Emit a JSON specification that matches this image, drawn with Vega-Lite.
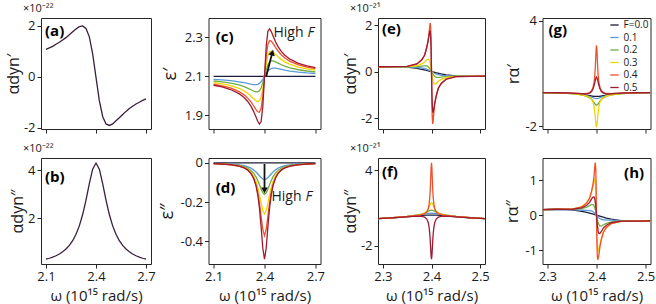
{
"$schema":"https://vega.github.io/schema/vega-lite/v6.json",
"padding":{"left":4,"top":2,"right":0,"bottom":0},
"config":{
 "font":"Open Sans",
 "view":{"stroke":"#262626","strokeWidth":1},
 "axis":{"grid":false,"domain":false,"tickColor":"#262626","tickSize":4,"tickWidth":1,"labelFontSize":13,"labelColor":"#1a1a1a","labelPadding":2,"titleFontSize":15,"titleFontWeight":"normal","titleColor":"#1a1a1a"},
 "axisX":{"titlePadding":5},
 "axisY":{"titlePadding":2},
 "title":{"fontSize":11,"fontWeight":"normal","anchor":"start","frame":"group","offset":0,"color":"#1a1a1a"},
 "line":{"strokeWidth":1.3}
},
"datasets":{
"ab":[
{"w":2.10,"re":1.07,"im":0.286},{"w":2.12,"re":1.13,"im":0.325},{"w":2.14,"re":1.19,"im":0.372},{"w":2.16,"re":1.27,"im":0.43},{"w":2.18,"re":1.35,"im":0.502},{"w":2.20,"re":1.44,"im":0.593},{"w":2.22,"re":1.53,"im":0.71},{"w":2.24,"re":1.64,"im":0.86},{"w":2.26,"re":1.76,"im":1.058},{"w":2.28,"re":1.87,"im":1.324},{"w":2.30,"re":1.96,"im":1.677},{"w":2.32,"re":1.99,"im":2.15},{"w":2.34,"re":1.89,"im":2.752},{"w":2.36,"re":1.56,"im":3.44},{"w":2.38,"re":0.89,"im":4.046},{"w":2.40,"re":-0.03,"im":4.3},{"w":2.42,"re":-0.94,"im":4.046},{"w":2.44,"re":-1.56,"im":3.44},{"w":2.46,"re":-1.85,"im":2.752},{"w":2.48,"re":-1.91,"im":2.15},{"w":2.50,"re":-1.85,"im":1.677},{"w":2.52,"re":-1.73,"im":1.324},{"w":2.54,"re":-1.61,"im":1.058},{"w":2.56,"re":-1.48,"im":0.86},{"w":2.58,"re":-1.36,"im":0.71},{"w":2.60,"re":-1.25,"im":0.593},{"w":2.62,"re":-1.16,"im":0.502},{"w":2.64,"re":-1.07,"im":0.43},{"w":2.66,"re":-1.00,"im":0.372},{"w":2.68,"re":-0.93,"im":0.325},{"w":2.70,"re":-0.87,"im":0.286}
],
"cd":[
{"F":0,"w":2.1,"re":2.1,"im":0},{"F":0,"w":2.4,"re":2.1,"im":0},{"F":0,"w":2.7,"re":2.1,"im":0},
{"F":0.1,"w":2.10,"re":2.0849,"im":-0.0028},{"F":0.1,"w":2.15,"re":2.0822,"im":-0.0039},{"F":0.1,"w":2.20,"re":2.0783,"im":-0.006},{"F":0.1,"w":2.25,"re":2.0725,"im":-0.0101},{"F":0.1,"w":2.28,"re":2.0678,"im":-0.0148},{"F":0.1,"w":2.30,"re":2.0641,"im":-0.0197},{"F":0.1,"w":2.32,"re":2.0603,"im":-0.0273},{"F":0.1,"w":2.335,"re":2.0578,"im":-0.0357},{"F":0.1,"w":2.35,"re":2.0577,"im":-0.0465},{"F":0.1,"w":2.36,"re":2.0596,"im":-0.0556},{"F":0.1,"w":2.37,"re":2.0643,"im":-0.0655},{"F":0.1,"w":2.38,"re":2.0727,"im":-0.0751},{"F":0.1,"w":2.39,"re":2.085,"im":-0.0823},{"F":0.1,"w":2.40,"re":2.1,"im":-0.085},{"F":0.1,"w":2.41,"re":2.115,"im":-0.0823},{"F":0.1,"w":2.42,"re":2.1273,"im":-0.0751},{"F":0.1,"w":2.43,"re":2.1357,"im":-0.0655},{"F":0.1,"w":2.44,"re":2.1404,"im":-0.0556},{"F":0.1,"w":2.45,"re":2.1423,"im":-0.0465},{"F":0.1,"w":2.465,"re":2.1422,"im":-0.0357},{"F":0.1,"w":2.48,"re":2.1397,"im":-0.0273},{"F":0.1,"w":2.50,"re":2.1359,"im":-0.0197},{"F":0.1,"w":2.52,"re":2.1322,"im":-0.0148},{"F":0.1,"w":2.55,"re":2.1275,"im":-0.0101},{"F":0.1,"w":2.60,"re":2.1217,"im":-0.006},{"F":0.1,"w":2.65,"re":2.1178,"im":-0.0039},{"F":0.1,"w":2.70,"re":2.1151,"im":-0.0028},
{"F":0.2,"w":2.10,"re":2.0765,"im":-0.0035},{"F":0.2,"w":2.15,"re":2.0721,"im":-0.005},{"F":0.2,"w":2.20,"re":2.0657,"im":-0.0077},{"F":0.2,"w":2.25,"re":2.056,"im":-0.0132},{"F":0.2,"w":2.28,"re":2.0474,"im":-0.0197},{"F":0.2,"w":2.30,"re":2.0401,"im":-0.0269},{"F":0.2,"w":2.32,"re":2.0316,"im":-0.0385},{"F":0.2,"w":2.335,"re":2.0251,"im":-0.0518},{"F":0.2,"w":2.35,"re":2.0204,"im":-0.0716},{"F":0.2,"w":2.36,"re":2.0205,"im":-0.0894},{"F":0.2,"w":2.37,"re":2.0262,"im":-0.1108},{"F":0.2,"w":2.38,"re":2.0406,"im":-0.1336},{"F":0.2,"w":2.39,"re":2.0661,"im":-0.1525},{"F":0.2,"w":2.40,"re":2.1,"im":-0.16},{"F":0.2,"w":2.41,"re":2.1339,"im":-0.1525},{"F":0.2,"w":2.42,"re":2.1594,"im":-0.1336},{"F":0.2,"w":2.43,"re":2.1738,"im":-0.1108},{"F":0.2,"w":2.44,"re":2.1795,"im":-0.0894},{"F":0.2,"w":2.45,"re":2.1796,"im":-0.0716},{"F":0.2,"w":2.465,"re":2.1749,"im":-0.0518},{"F":0.2,"w":2.48,"re":2.1684,"im":-0.0385},{"F":0.2,"w":2.50,"re":2.1599,"im":-0.0269},{"F":0.2,"w":2.52,"re":2.1526,"im":-0.0197},{"F":0.2,"w":2.55,"re":2.144,"im":-0.0132},{"F":0.2,"w":2.60,"re":2.1343,"im":-0.0077},{"F":0.2,"w":2.65,"re":2.1279,"im":-0.005},{"F":0.2,"w":2.70,"re":2.1235,"im":-0.0035},
{"F":0.3,"w":2.10,"re":2.0676,"im":-0.0041},{"F":0.3,"w":2.15,"re":2.0614,"im":-0.0059},{"F":0.3,"w":2.20,"re":2.0523,"im":-0.009},{"F":0.3,"w":2.25,"re":2.0381,"im":-0.0157},{"F":0.3,"w":2.28,"re":2.0252,"im":-0.0237},{"F":0.3,"w":2.30,"re":2.0137,"im":-0.0328},{"F":0.3,"w":2.32,"re":1.9992,"im":-0.0479},{"F":0.3,"w":2.335,"re":1.9867,"im":-0.0662},{"F":0.3,"w":2.35,"re":1.9748,"im":-0.0952},{"F":0.3,"w":2.36,"re":1.9702,"im":-0.1233},{"F":0.3,"w":2.37,"re":1.9736,"im":-0.1602},{"F":0.3,"w":2.38,"re":1.9929,"im":-0.2036},{"F":0.3,"w":2.39,"re":2.036,"im":-0.2432},{"F":0.3,"w":2.40,"re":2.1,"im":-0.26},{"F":0.3,"w":2.41,"re":2.164,"im":-0.2432},{"F":0.3,"w":2.42,"re":2.2071,"im":-0.2036},{"F":0.3,"w":2.43,"re":2.2264,"im":-0.1602},{"F":0.3,"w":2.44,"re":2.2298,"im":-0.1233},{"F":0.3,"w":2.45,"re":2.2252,"im":-0.0952},{"F":0.3,"w":2.465,"re":2.2133,"im":-0.0662},{"F":0.3,"w":2.48,"re":2.2008,"im":-0.0479},{"F":0.3,"w":2.50,"re":2.1863,"im":-0.0328},{"F":0.3,"w":2.52,"re":2.1748,"im":-0.0237},{"F":0.3,"w":2.55,"re":2.1619,"im":-0.0157},{"F":0.3,"w":2.60,"re":2.1477,"im":-0.009},{"F":0.3,"w":2.65,"re":2.1386,"im":-0.0059},{"F":0.3,"w":2.70,"re":2.1324,"im":-0.0041},
{"F":0.4,"w":2.10,"re":2.0598,"im":-0.0044},{"F":0.4,"w":2.15,"re":2.052,"im":-0.0063},{"F":0.4,"w":2.20,"re":2.0406,"im":-0.0098},{"F":0.4,"w":2.25,"re":2.0224,"im":-0.0171},{"F":0.4,"w":2.28,"re":2.0054,"im":-0.026},{"F":0.4,"w":2.30,"re":1.9899,"im":-0.0363},{"F":0.4,"w":2.32,"re":1.9696,"im":-0.0538},{"F":0.4,"w":2.335,"re":1.9507,"im":-0.0758},{"F":0.4,"w":2.35,"re":1.9299,"im":-0.1123},{"F":0.4,"w":2.36,"re":1.9184,"im":-0.1499},{"F":0.4,"w":2.37,"re":1.9159,"im":-0.2026},{"F":0.4,"w":2.38,"re":1.936,"im":-0.2706},{"F":0.4,"w":2.39,"re":1.9973,"im":-0.3389},{"F":0.4,"w":2.40,"re":2.1,"im":-0.37},{"F":0.4,"w":2.41,"re":2.2027,"im":-0.3389},{"F":0.4,"w":2.42,"re":2.264,"im":-0.2706},{"F":0.4,"w":2.43,"re":2.2841,"im":-0.2026},{"F":0.4,"w":2.44,"re":2.2816,"im":-0.1499},{"F":0.4,"w":2.45,"re":2.2701,"im":-0.1123},{"F":0.4,"w":2.465,"re":2.2493,"im":-0.0758},{"F":0.4,"w":2.48,"re":2.2304,"im":-0.0538},{"F":0.4,"w":2.50,"re":2.2101,"im":-0.0363},{"F":0.4,"w":2.52,"re":2.1946,"im":-0.026},{"F":0.4,"w":2.55,"re":2.1776,"im":-0.0171},{"F":0.4,"w":2.60,"re":2.1594,"im":-0.0098},{"F":0.4,"w":2.65,"re":2.148,"im":-0.0063},{"F":0.4,"w":2.70,"re":2.1402,"im":-0.0044},
{"F":0.5,"w":2.10,"re":2.0547,"im":-0.0042},{"F":0.5,"w":2.15,"re":2.0458,"im":-0.0061},{"F":0.5,"w":2.20,"re":2.0327,"im":-0.0094},{"F":0.5,"w":2.25,"re":2.0116,"im":-0.0165},{"F":0.5,"w":2.28,"re":1.9916,"im":-0.0253},{"F":0.5,"w":2.30,"re":1.9728,"im":-0.0356},{"F":0.5,"w":2.32,"re":1.9472,"im":-0.0535},{"F":0.5,"w":2.335,"re":1.922,"im":-0.0767},{"F":0.5,"w":2.35,"re":1.8911,"im":-0.117},{"F":0.5,"w":2.36,"re":1.8698,"im":-0.1612},{"F":0.5,"w":2.37,"re":1.8556,"im":-0.2281},{"F":0.5,"w":2.38,"re":1.8682,"im":-0.3245},{"F":0.5,"w":2.39,"re":1.9448,"im":-0.4346},{"F":0.5,"w":2.40,"re":2.1,"im":-0.49},{"F":0.5,"w":2.41,"re":2.2552,"im":-0.4346},{"F":0.5,"w":2.42,"re":2.3318,"im":-0.3245},{"F":0.5,"w":2.43,"re":2.3444,"im":-0.2281},{"F":0.5,"w":2.44,"re":2.3302,"im":-0.1612},{"F":0.5,"w":2.45,"re":2.3089,"im":-0.117},{"F":0.5,"w":2.465,"re":2.278,"im":-0.0767},{"F":0.5,"w":2.48,"re":2.2528,"im":-0.0535},{"F":0.5,"w":2.50,"re":2.2272,"im":-0.0356},{"F":0.5,"w":2.52,"re":2.2084,"im":-0.0253},{"F":0.5,"w":2.55,"re":2.1884,"im":-0.0165},{"F":0.5,"w":2.60,"re":2.1673,"im":-0.0094},{"F":0.5,"w":2.65,"re":2.1542,"im":-0.0061},{"F":0.5,"w":2.70,"re":2.1453,"im":-0.0042}
],
"ef":[
{"F":0,"w":2.29,"re":0.211,"im":0.149},{"F":0,"w":2.32,"re":0.218,"im":0.215},{"F":0,"w":2.35,"re":0.193,"im":0.309},{"F":0,"w":2.37,"re":0.140,"im":0.377},{"F":0,"w":2.38,"re":0.100,"im":0.405},{"F":0,"w":2.39,"re":0.052,"im":0.424},{"F":0,"w":2.395,"re":0.026,"im":0.428},{"F":0,"w":2.4,"re":0,"im":0.43},{"F":0,"w":2.405,"re":-0.026,"im":0.428},{"F":0,"w":2.41,"re":-0.051,"im":0.424},{"F":0,"w":2.42,"re":-0.098,"im":0.405},{"F":0,"w":2.43,"re":-0.136,"im":0.377},{"F":0,"w":2.45,"re":-0.184,"im":0.309},{"F":0,"w":2.48,"re":-0.202,"im":0.215},{"F":0,"w":2.51,"re":-0.189,"im":0.149},
{"F":0.1,"w":2.29,"re":0.211,"im":0.155},{"F":0.1,"w":2.32,"re":0.218,"im":0.226},{"F":0.1,"w":2.35,"re":0.201,"im":0.333},{"F":0.1,"w":2.37,"re":0.179,"im":0.430},{"F":0.1,"w":2.38,"re":0.160,"im":0.487},{"F":0.1,"w":2.39,"re":0.109,"im":0.548},{"F":0.1,"w":2.395,"re":0.058,"im":0.571},{"F":0.1,"w":2.4,"re":0,"im":0.58},{"F":0.1,"w":2.405,"re":-0.058,"im":0.571},{"F":0.1,"w":2.41,"re":-0.108,"im":0.548},{"F":0.1,"w":2.42,"re":-0.158,"im":0.487},{"F":0.1,"w":2.43,"re":-0.175,"im":0.430},{"F":0.1,"w":2.45,"re":-0.192,"im":0.333},{"F":0.1,"w":2.48,"re":-0.202,"im":0.226},{"F":0.1,"w":2.51,"re":-0.189,"im":0.155},
{"F":0.2,"w":2.29,"re":0.211,"im":0.154},{"F":0.2,"w":2.32,"re":0.218,"im":0.224},{"F":0.2,"w":2.35,"re":0.207,"im":0.331},{"F":0.2,"w":2.37,"re":0.216,"im":0.432},{"F":0.2,"w":2.38,"re":0.241,"im":0.511},{"F":0.2,"w":2.386,"re":0.249,"im":0.586},{"F":0.2,"w":2.39,"re":0.249,"im":0.660},{"F":0.2,"w":2.393,"re":0.211,"im":0.725},{"F":0.2,"w":2.395,"re":0.168,"im":0.769},{"F":0.2,"w":2.3975,"re":0.093,"im":0.813},{"F":0.2,"w":2.4,"re":0,"im":0.83},{"F":0.2,"w":2.4025,"re":-0.093,"im":0.813},{"F":0.2,"w":2.405,"re":-0.168,"im":0.769},{"F":0.2,"w":2.407,"re":-0.211,"im":0.725},{"F":0.2,"w":2.41,"re":-0.248,"im":0.660},{"F":0.2,"w":2.414,"re":-0.248,"im":0.586},{"F":0.2,"w":2.42,"re":-0.239,"im":0.511},{"F":0.2,"w":2.43,"re":-0.212,"im":0.432},{"F":0.2,"w":2.45,"re":-0.198,"im":0.331},{"F":0.2,"w":2.48,"re":-0.202,"im":0.224},{"F":0.2,"w":2.51,"re":-0.189,"im":0.154},
{"F":0.3,"w":2.29,"re":0.211,"im":0.153},{"F":0.3,"w":2.32,"re":0.218,"im":0.222},{"F":0.3,"w":2.35,"re":0.212,"im":0.326},{"F":0.3,"w":2.37,"re":0.254,"im":0.422},{"F":0.3,"w":2.38,"re":0.335,"im":0.501},{"F":0.3,"w":2.386,"re":0.415,"im":0.594},{"F":0.3,"w":2.39,"re":0.509,"im":0.721},{"F":0.3,"w":2.393,"re":0.536,"im":0.890},{"F":0.3,"w":2.395,"re":0.509,"im":1.057},{"F":0.3,"w":2.3965,"re":0.435,"im":1.206},{"F":0.3,"w":2.3985,"re":0.227,"im":1.379},{"F":0.3,"w":2.4,"re":0,"im":1.43},{"F":0.3,"w":2.4015,"re":-0.227,"im":1.379},{"F":0.3,"w":2.4035,"re":-0.435,"im":1.206},{"F":0.3,"w":2.405,"re":-0.509,"im":1.057},{"F":0.3,"w":2.407,"re":-0.536,"im":0.890},{"F":0.3,"w":2.41,"re":-0.508,"im":0.721},{"F":0.3,"w":2.414,"re":-0.414,"im":0.594},{"F":0.3,"w":2.42,"re":-0.333,"im":0.501},{"F":0.3,"w":2.43,"re":-0.250,"im":0.422},{"F":0.3,"w":2.45,"re":-0.203,"im":0.326},{"F":0.3,"w":2.48,"re":-0.202,"im":0.222},{"F":0.3,"w":2.51,"re":-0.189,"im":0.153},
{"F":0.4,"w":2.29,"re":0.211,"im":0.151},{"F":0.4,"w":2.32,"re":0.218,"im":0.219},{"F":0.4,"w":2.35,"re":0.224,"im":0.319},{"F":0.4,"w":2.37,"re":0.329,"im":0.406},{"F":0.4,"w":2.38,"re":0.509,"im":0.469},{"F":0.4,"w":2.386,"re":0.718,"im":0.546},{"F":0.4,"w":2.39,"re":1.028,"im":0.668},{"F":0.4,"w":2.393,"re":1.351,"im":0.896},{"F":0.4,"w":2.395,"re":1.686,"im":1.258},{"F":0.4,"w":2.3965,"re":1.981,"im":1.832},{"F":0.4,"w":2.3975,"re":2.088,"im":2.505},{"F":0.4,"w":2.3985,"re":1.839,"im":3.481},{"F":0.4,"w":2.3992,"re":1.209,"im":4.196},{"F":0.4,"w":2.4,"re":0,"im":4.58},{"F":0.4,"w":2.4008,"re":-1.26,"im":4.196},{"F":0.4,"w":2.4015,"re":-1.95,"im":3.481},{"F":0.4,"w":2.4025,"re":-2.25,"im":2.505},{"F":0.4,"w":2.4035,"re":-2.1,"im":1.832},{"F":0.4,"w":2.405,"re":-1.72,"im":1.258},{"F":0.4,"w":2.407,"re":-1.36,"im":0.896},{"F":0.4,"w":2.41,"re":-1.027,"im":0.668},{"F":0.4,"w":2.414,"re":-0.717,"im":0.546},{"F":0.4,"w":2.42,"re":-0.507,"im":0.469},{"F":0.4,"w":2.43,"re":-0.325,"im":0.406},{"F":0.4,"w":2.45,"re":-0.215,"im":0.319},{"F":0.4,"w":2.48,"re":-0.202,"im":0.219},{"F":0.4,"w":2.51,"re":-0.189,"im":0.151},
{"F":0.5,"w":2.29,"re":0.211,"im":0.147},{"F":0.5,"w":2.32,"re":0.218,"im":0.210},{"F":0.5,"w":2.35,"re":0.225,"im":0.296},{"F":0.5,"w":2.37,"re":0.331,"im":0.342},{"F":0.5,"w":2.38,"re":0.512,"im":0.328},{"F":0.5,"w":2.386,"re":0.717,"im":0.263},{"F":0.5,"w":2.39,"re":1.018,"im":0.133},{"F":0.5,"w":2.393,"re":1.304,"im":-0.116},{"F":0.5,"w":2.395,"re":1.570,"im":-0.500},{"F":0.5,"w":2.3965,"re":1.747,"im":-1.051},{"F":0.5,"w":2.3975,"re":1.735,"im":-1.635},{"F":0.5,"w":2.3985,"re":1.408,"im":-2.37},{"F":0.5,"w":2.3992,"re":0.876,"im":-2.836},{"F":0.5,"w":2.4,"re":0,"im":-3.07},{"F":0.5,"w":2.4008,"re":-0.876,"im":-2.836},{"F":0.5,"w":2.4015,"re":-1.408,"im":-2.37},{"F":0.5,"w":2.4025,"re":-1.735,"im":-1.635},{"F":0.5,"w":2.4035,"re":-1.747,"im":-1.051},{"F":0.5,"w":2.405,"re":-1.570,"im":-0.500},{"F":0.5,"w":2.407,"re":-1.304,"im":-0.116},{"F":0.5,"w":2.41,"re":-1.017,"im":0.133},{"F":0.5,"w":2.414,"re":-0.716,"im":0.263},{"F":0.5,"w":2.42,"re":-0.510,"im":0.328},{"F":0.5,"w":2.43,"re":-0.327,"im":0.342},{"F":0.5,"w":2.45,"re":-0.216,"im":0.296},{"F":0.5,"w":2.48,"re":-0.202,"im":0.210},{"F":0.5,"w":2.51,"re":-0.189,"im":0.147}
],
"gh":[
{"F":0,"w":2.29,"re":-0.086,"im":0.162},{"F":0,"w":2.32,"re":-0.098,"im":0.17},{"F":0,"w":2.35,"re":-0.131,"im":0.153},{"F":0,"w":2.37,"re":-0.185,"im":0.112},{"F":0,"w":2.38,"re":-0.229,"im":0.080},{"F":0,"w":2.386,"re":-0.259,"im":0.058},{"F":0,"w":2.39,"re":-0.277,"im":0.042},{"F":0,"w":2.395,"re":-0.294,"im":0.021},{"F":0,"w":2.4,"re":-0.30,"im":0},{"F":0,"w":2.405,"re":-0.294,"im":-0.021},{"F":0,"w":2.41,"re":-0.277,"im":-0.042},{"F":0,"w":2.414,"re":-0.259,"im":-0.058},{"F":0,"w":2.42,"re":-0.229,"im":-0.080},{"F":0,"w":2.43,"re":-0.185,"im":-0.112},{"F":0,"w":2.45,"re":-0.131,"im":-0.153},{"F":0,"w":2.48,"re":-0.098,"im":-0.17},{"F":0,"w":2.51,"re":-0.086,"im":-0.162},
{"F":0.1,"w":2.29,"re":-0.087,"im":0.162},{"F":0.1,"w":2.32,"re":-0.101,"im":0.170},{"F":0.1,"w":2.35,"re":-0.138,"im":0.158},{"F":0.1,"w":2.37,"re":-0.202,"im":0.142},{"F":0.1,"w":2.38,"re":-0.261,"im":0.136},{"F":0.1,"w":2.386,"re":-0.310,"im":0.129},{"F":0.1,"w":2.39,"re":-0.348,"im":0.121},{"F":0.1,"w":2.395,"re":-0.396,"im":0.078},{"F":0.1,"w":2.4,"re":-0.42,"im":0},{"F":0.1,"w":2.405,"re":-0.396,"im":-0.078},{"F":0.1,"w":2.41,"re":-0.348,"im":-0.121},{"F":0.1,"w":2.414,"re":-0.310,"im":-0.129},{"F":0.1,"w":2.42,"re":-0.261,"im":-0.136},{"F":0.1,"w":2.43,"re":-0.202,"im":-0.142},{"F":0.1,"w":2.45,"re":-0.138,"im":-0.158},{"F":0.1,"w":2.48,"re":-0.101,"im":-0.170},{"F":0.1,"w":2.51,"re":-0.087,"im":-0.162},
{"F":0.2,"w":2.29,"re":-0.089,"im":0.162},{"F":0.2,"w":2.32,"re":-0.103,"im":0.17},{"F":0.2,"w":2.35,"re":-0.144,"im":0.166},{"F":0.2,"w":2.37,"re":-0.218,"im":0.187},{"F":0.2,"w":2.38,"re":-0.298,"im":0.232},{"F":0.2,"w":2.386,"re":-0.382,"im":0.271},{"F":0.2,"w":2.39,"re":-0.472,"im":0.310},{"F":0.2,"w":2.393,"re":-0.571,"im":0.303},{"F":0.2,"w":2.395,"re":-0.654,"im":0.268},{"F":0.2,"w":2.3975,"re":-0.754,"im":0.168},{"F":0.2,"w":2.4,"re":-0.80,"im":0},{"F":0.2,"w":2.4025,"re":-0.754,"im":-0.168},{"F":0.2,"w":2.405,"re":-0.654,"im":-0.268},{"F":0.2,"w":2.407,"re":-0.571,"im":-0.303},{"F":0.2,"w":2.41,"re":-0.472,"im":-0.310},{"F":0.2,"w":2.414,"re":-0.382,"im":-0.271},{"F":0.2,"w":2.42,"re":-0.298,"im":-0.232},{"F":0.2,"w":2.43,"re":-0.218,"im":-0.187},{"F":0.2,"w":2.45,"re":-0.144,"im":-0.166},{"F":0.2,"w":2.48,"re":-0.103,"im":-0.17},{"F":0.2,"w":2.51,"re":-0.089,"im":-0.162},
{"F":0.3,"w":2.29,"re":-0.088,"im":0.162},{"F":0.3,"w":2.32,"re":-0.101,"im":0.17},{"F":0.3,"w":2.35,"re":-0.140,"im":0.174},{"F":0.3,"w":2.37,"re":-0.208,"im":0.239},{"F":0.3,"w":2.38,"re":-0.282,"im":0.352},{"F":0.3,"w":2.386,"re":-0.362,"im":0.482},{"F":0.3,"w":2.39,"re":-0.468,"im":0.666},{"F":0.3,"w":2.393,"re":-0.638,"im":0.830},{"F":0.3,"w":2.395,"re":-0.870,"im":0.959},{"F":0.3,"w":2.3965,"re":-1.172,"im":1.015},{"F":0.3,"w":2.3975,"re":-1.457,"im":0.957},{"F":0.3,"w":2.3985,"re":-1.779,"im":0.731},{"F":0.3,"w":2.3992,"re":-1.963,"im":0.438},{"F":0.3,"w":2.4,"re":-2.05,"im":0},{"F":0.3,"w":2.4008,"re":-1.963,"im":-0.438},{"F":0.3,"w":2.4015,"re":-1.779,"im":-0.731},{"F":0.3,"w":2.4025,"re":-1.457,"im":-0.957},{"F":0.3,"w":2.4035,"re":-1.172,"im":-1.015},{"F":0.3,"w":2.405,"re":-0.870,"im":-0.959},{"F":0.3,"w":2.407,"re":-0.638,"im":-0.830},{"F":0.3,"w":2.41,"re":-0.468,"im":-0.666},{"F":0.3,"w":2.414,"re":-0.362,"im":-0.482},{"F":0.3,"w":2.42,"re":-0.282,"im":-0.352},{"F":0.3,"w":2.43,"re":-0.208,"im":-0.239},{"F":0.3,"w":2.45,"re":-0.140,"im":-0.174},{"F":0.3,"w":2.48,"re":-0.101,"im":-0.17},{"F":0.3,"w":2.51,"re":-0.088,"im":-0.162},
{"F":0.4,"w":2.29,"re":-0.083,"im":0.162},{"F":0.4,"w":2.32,"re":-0.091,"im":0.17},{"F":0.4,"w":2.35,"re":-0.115,"im":0.174},{"F":0.4,"w":2.37,"re":-0.141,"im":0.237},{"F":0.4,"w":2.38,"re":-0.135,"im":0.351},{"F":0.4,"w":2.386,"re":-0.083,"im":0.486},{"F":0.4,"w":2.39,"re":0.026,"im":0.689},{"F":0.4,"w":2.393,"re":0.222,"im":0.901},{"F":0.4,"w":2.395,"re":0.494,"im":1.121},{"F":0.4,"w":2.3965,"re":0.884,"im":1.40},{"F":0.4,"w":2.3975,"re":1.316,"im":1.50},{"F":0.4,"w":2.3985,"re":1.924,"im":1.31},{"F":0.4,"w":2.3992,"re":2.365,"im":0.86},{"F":0.4,"w":2.4,"re":2.60,"im":0},{"F":0.4,"w":2.4008,"re":2.365,"im":-0.74},{"F":0.4,"w":2.4015,"re":1.924,"im":-1.12},{"F":0.4,"w":2.4025,"re":1.316,"im":-1.27},{"F":0.4,"w":2.4035,"re":0.884,"im":-1.22},{"F":0.4,"w":2.405,"re":0.494,"im":-1.121},{"F":0.4,"w":2.407,"re":0.222,"im":-0.901},{"F":0.4,"w":2.41,"re":0.026,"im":-0.689},{"F":0.4,"w":2.414,"re":-0.083,"im":-0.486},{"F":0.4,"w":2.42,"re":-0.135,"im":-0.351},{"F":0.4,"w":2.43,"re":-0.141,"im":-0.237},{"F":0.4,"w":2.45,"re":-0.115,"im":-0.174},{"F":0.4,"w":2.48,"re":-0.091,"im":-0.17},{"F":0.4,"w":2.51,"re":-0.083,"im":-0.162},
{"F":0.5,"w":2.29,"re":-0.083,"im":0.162},{"F":0.5,"w":2.32,"re":-0.093,"im":0.17},{"F":0.5,"w":2.35,"re":-0.118,"im":0.169},{"F":0.5,"w":2.37,"re":-0.149,"im":0.210},{"F":0.5,"w":2.38,"re":-0.152,"im":0.285},{"F":0.5,"w":2.386,"re":-0.112,"im":0.364},{"F":0.5,"w":2.39,"re":-0.021,"im":0.464},{"F":0.5,"w":2.393,"re":0.132,"im":0.516},{"F":0.5,"w":2.395,"re":0.308,"im":0.519},{"F":0.5,"w":2.3965,"re":0.486,"im":0.468},{"F":0.5,"w":2.3985,"re":0.724,"im":0.260},{"F":0.5,"w":2.4,"re":0.80,"im":0},{"F":0.5,"w":2.4015,"re":0.724,"im":-0.260},{"F":0.5,"w":2.4035,"re":0.486,"im":-0.468},{"F":0.5,"w":2.405,"re":0.308,"im":-0.519},{"F":0.5,"w":2.407,"re":0.132,"im":-0.516},{"F":0.5,"w":2.41,"re":-0.021,"im":-0.464},{"F":0.5,"w":2.414,"re":-0.112,"im":-0.364},{"F":0.5,"w":2.42,"re":-0.152,"im":-0.285},{"F":0.5,"w":2.43,"re":-0.149,"im":-0.210},{"F":0.5,"w":2.45,"re":-0.118,"im":-0.169},{"F":0.5,"w":2.48,"re":-0.093,"im":-0.17},{"F":0.5,"w":2.51,"re":-0.083,"im":-0.162}
]
},
"columns":4,
"spacing":{"row":29,"column":57.5},
"bounds":"flush",
"resolve":{"scale":{"color":"independent"},"legend":{"color":"independent"}},
"concat":[
{"width":110,"height":111,"title":{"text":"×10⁻²²","dx":-18},"data":{"name":"ab"},
 "layer":[
  {"mark":{"type":"line","color":"#3a1f3c","clip":true},"encoding":{
   "x":{"field":"w","type":"quantitative","scale":{"domain":[2.07,2.73],"nice":false,"zero":false},"axis":{"values":[2.1,2.4,2.7],"labels":false,"title":null}},
   "y":{"field":"re","type":"quantitative","scale":{"domain":[-2.05,2.3],"nice":false,"zero":false},"axis":{"values":[-2,0,2],"title":"αdyn′","titleFontSize":16,"labelExpr":"replace(datum.label,'\u2212','-')"}}}},
  {"data":{"values":[{"t":"(a)"}]},"mark":{"type":"text","fontWeight":"bold","fontSize":15,"align":"left","baseline":"middle"},"encoding":{"x":{"datum":2.094},"y":{"datum":1.79},"text":{"field":"t"}}}
 ]},
{"width":112,"height":111,"data":{"name":"cd"},
 "layer":[
  {"mark":{"type":"line","clip":true},"encoding":{
   "x":{"field":"w","type":"quantitative","scale":{"domain":[2.07,2.73],"nice":false,"zero":false},"axis":{"values":[2.1,2.4,2.7],"labels":false,"title":null}},
   "y":{"field":"re","type":"quantitative","scale":{"domain":[1.83,2.40],"nice":false,"zero":false},"axis":{"values":[1.9,2.1,2.3],"format":".1f","title":"ε′","titleFontSize":18,"titlePadding":5}},
   "color":{"field":"F","type":"ordinal","scale":{"domain":[0,0.1,0.2,0.3,0.4,0.5],"range":["#1d1d3b","#5b9bd5","#70ad47","#f2d500","#f0502a","#9e1b32"]},"legend":null}}},
  {"data":{"values":[{"t":"(c)"}]},"mark":{"type":"text","fontWeight":"bold","fontSize":15,"align":"left","baseline":"middle"},"encoding":{"x":{"datum":2.112},"y":{"datum":2.30},"text":{"field":"t"}}},
  {"data":{"values":[{"t":"arrow"}]},"mark":{"type":"rule","color":"#111","strokeWidth":1.8},"encoding":{"x":{"datum":2.41},"y":{"datum":2.1},"x2":{"datum":2.443},"y2":{"datum":2.212}}},
  {"data":{"values":[{"t":"head"}]},"mark":{"type":"point","shape":"triangle-up","filled":true,"size":45,"color":"#111","opacity":1,"angle":15},"encoding":{"x":{"datum":2.446},"y":{"datum":2.222}}},
  {"data":{"values":[{"t":"High"}]},"mark":{"type":"text","fontSize":14,"align":"left","baseline":"middle","color":"#1a1a1a"},"encoding":{"x":{"datum":2.453},"y":{"datum":2.325},"text":{"field":"t"}}},
  {"data":{"values":[{"t":"F"}]},"mark":{"type":"text","fontSize":14,"fontStyle":"italic","align":"left","baseline":"middle","dx":34,"color":"#1a1a1a"},"encoding":{"x":{"datum":2.453},"y":{"datum":2.325},"text":{"field":"t"}}}
 ]},
{"width":107,"height":111,"title":{"text":"×10⁻²¹","dx":-28},"data":{"name":"ef"},
 "layer":[
  {"mark":{"type":"line","clip":true},"encoding":{
   "x":{"field":"w","type":"quantitative","scale":{"domain":[2.29,2.51],"nice":false,"zero":false},"axis":{"values":[2.3,2.4,2.5],"labels":false,"title":null}},
   "y":{"field":"re","type":"quantitative","scale":{"domain":[-2.47,2.31],"nice":false,"zero":false},"axis":{"values":[-2,0,2],"title":"αdyn′","titleFontSize":16,"labelExpr":"replace(datum.label,'\u2212','-')"}},
   "color":{"field":"F","type":"ordinal","scale":{"domain":[0,0.1,0.2,0.3,0.4,0.5],"range":["#1d1d3b","#5b9bd5","#70ad47","#f2d500","#f0502a","#9e1b32"]},"legend":null}}},
  {"data":{"values":[{"t":"(e)"}]},"mark":{"type":"text","fontWeight":"bold","fontSize":15,"align":"left","baseline":"middle"},"encoding":{"x":{"datum":2.298},"y":{"datum":1.83},"text":{"field":"t"}}}
 ]},
{"width":108,"height":111,"data":{"name":"gh"},
 "layer":[
  {"mark":{"type":"line","clip":true},"encoding":{
   "x":{"field":"w","type":"quantitative","scale":{"domain":[2.29,2.51],"nice":false,"zero":false},"axis":{"values":[2.3,2.4,2.5],"labels":false,"title":null}},
   "y":{"field":"re","type":"quantitative","scale":{"domain":[-2.15,4.15],"nice":false,"zero":false},"axis":{"values":[-2,0,2,4],"title":"rα′","titleFontSize":16,"titlePadding":3,"labelExpr":"replace(datum.label,'\u2212','-')"}},
   "color":{"field":"F","type":"ordinal","scale":{"domain":[0,0.1,0.2,0.3,0.4,0.5],"range":["#1d1d3b","#5b9bd5","#70ad47","#f2d500","#f0502a","#9e1b32"]},
    "legend":{"orient":"top-right","title":null,"offset":2,"padding":0,"symbolType":"stroke","symbolStrokeWidth":1.6,"symbolSize":70,"labelFontSize":10,"labelColor":"#1a1a1a","rowPadding":2.5,"labelOffset":4,"labelExpr":"datum.value == 0 ? 'F=0.0' : '\u2007\u2007' + format(datum.value, '.1f')"}}}},
  {"data":{"values":[{"t":"(g)"}]},"mark":{"type":"text","fontWeight":"bold","fontSize":15,"align":"left","baseline":"middle"},"encoding":{"x":{"datum":2.302},"y":{"datum":3.46},"text":{"field":"t"}}}
 ]},
{"width":110,"height":106,"title":{"text":"×10⁻²²","dx":-18},"data":{"name":"ab"},
 "layer":[
  {"mark":{"type":"line","color":"#3a1f3c","clip":true},"encoding":{
   "x":{"field":"w","type":"quantitative","scale":{"domain":[2.07,2.73],"nice":false,"zero":false},"axis":{"values":[2.1,2.4,2.7],"format":".1f","title":"ω (10¹⁵ rad/s)"}},
   "y":{"field":"im","type":"quantitative","scale":{"domain":[0.085,4.51],"nice":false,"zero":false},"axis":{"values":[2,4],"title":"αdyn″","titleFontSize":16}}}},
  {"data":{"values":[{"t":"(b)"}]},"mark":{"type":"text","fontWeight":"bold","fontSize":15,"align":"left","baseline":"middle"},"encoding":{"x":{"datum":2.094},"y":{"datum":3.73},"text":{"field":"t"}}}
 ]},
{"width":112,"height":106,"data":{"name":"cd"},
 "layer":[
  {"mark":{"type":"line","clip":true},"encoding":{
   "x":{"field":"w","type":"quantitative","scale":{"domain":[2.07,2.73],"nice":false,"zero":false},"axis":{"values":[2.1,2.4,2.7],"format":".1f","title":"ω (10¹⁵ rad/s)"}},
   "y":{"field":"im","type":"quantitative","scale":{"domain":[-0.5145,0.0245],"nice":false,"zero":false},"axis":{"values":[0,-0.2,-0.4],"title":"ε″","titleFontSize":18,"titlePadding":4,"labelExpr":"datum.value == 0 ? '0' : replace(format(datum.value, '.1f'),'\u2212','-')"}},
   "color":{"field":"F","type":"ordinal","scale":{"domain":[0,0.1,0.2,0.3,0.4,0.5],"range":["#1d1d3b","#5b9bd5","#70ad47","#f2d500","#f0502a","#9e1b32"]},"legend":null}}},
  {"data":{"values":[{"t":"(d)"}]},"mark":{"type":"text","fontWeight":"bold","fontSize":15,"align":"left","baseline":"middle"},"encoding":{"x":{"datum":2.112},"y":{"datum":-0.13},"text":{"field":"t"}}},
  {"data":{"values":[{"t":"arrow"}]},"mark":{"type":"rule","color":"#111","strokeWidth":1.8},"encoding":{"x":{"datum":2.4},"y":{"datum":-0.006},"y2":{"datum":-0.128}}},
  {"data":{"values":[{"t":"head"}]},"mark":{"type":"point","shape":"triangle-down","filled":true,"size":45,"color":"#111","opacity":1},"encoding":{"x":{"datum":2.4},"y":{"datum":-0.14}}},
  {"data":{"values":[{"t":"High"}]},"mark":{"type":"text","fontSize":14,"align":"left","baseline":"middle","color":"#1a1a1a"},"encoding":{"x":{"datum":2.441},"y":{"datum":-0.172},"text":{"field":"t"}}},
  {"data":{"values":[{"t":"F"}]},"mark":{"type":"text","fontSize":14,"fontStyle":"italic","align":"left","baseline":"middle","dx":34,"color":"#1a1a1a"},"encoding":{"x":{"datum":2.441},"y":{"datum":-0.172},"text":{"field":"t"}}}
 ]},
{"width":107,"height":106,"title":{"text":"×10⁻²¹","dx":-28},"data":{"name":"ef"},
 "layer":[
  {"mark":{"type":"line","clip":true},"encoding":{
   "x":{"field":"w","type":"quantitative","scale":{"domain":[2.29,2.51],"nice":false,"zero":false},"axis":{"values":[2.3,2.4,2.5],"format":".1f","title":"ω (10¹⁵ rad/s)"}},
   "y":{"field":"im","type":"quantitative","scale":{"domain":[-3.45,4.96],"nice":false,"zero":false},"axis":{"values":[-2,0,2,4],"title":"αdyn″","titleFontSize":16,"labelExpr":"replace(datum.label,'\u2212','-')"}},
   "color":{"field":"F","type":"ordinal","scale":{"domain":[0,0.1,0.2,0.3,0.4,0.5],"range":["#1d1d3b","#5b9bd5","#70ad47","#f2d500","#f0502a","#9e1b32"]},"legend":null}}},
  {"data":{"values":[{"t":"(f)"}]},"mark":{"type":"text","fontWeight":"bold","fontSize":15,"align":"left","baseline":"middle"},"encoding":{"x":{"datum":2.298},"y":{"datum":3.86},"text":{"field":"t"}}}
 ]},
{"width":108,"height":106,"data":{"name":"gh"},
 "layer":[
  {"mark":{"type":"line","clip":true},"encoding":{
   "x":{"field":"w","type":"quantitative","scale":{"domain":[2.29,2.51],"nice":false,"zero":false},"axis":{"values":[2.3,2.4,2.5],"format":".1f","title":"ω (10¹⁵ rad/s)"}},
   "y":{"field":"im","type":"quantitative","scale":{"domain":[-1.39,1.63],"nice":false,"zero":false},"axis":{"values":[-1,0,1],"title":"rα″","titleFontSize":16,"titlePadding":4,"labelExpr":"replace(datum.label,'\u2212','-')"}},
   "color":{"field":"F","type":"ordinal","scale":{"domain":[0,0.1,0.2,0.3,0.4,0.5],"range":["#1d1d3b","#5b9bd5","#70ad47","#f2d500","#f0502a","#9e1b32"]},"legend":null}}},
  {"data":{"values":[{"t":"(h)"}]},"mark":{"type":"text","fontWeight":"bold","fontSize":15,"align":"right","baseline":"middle"},"encoding":{"x":{"datum":2.497},"y":{"datum":1.19},"text":{"field":"t"}}}
 ]}
]
}
